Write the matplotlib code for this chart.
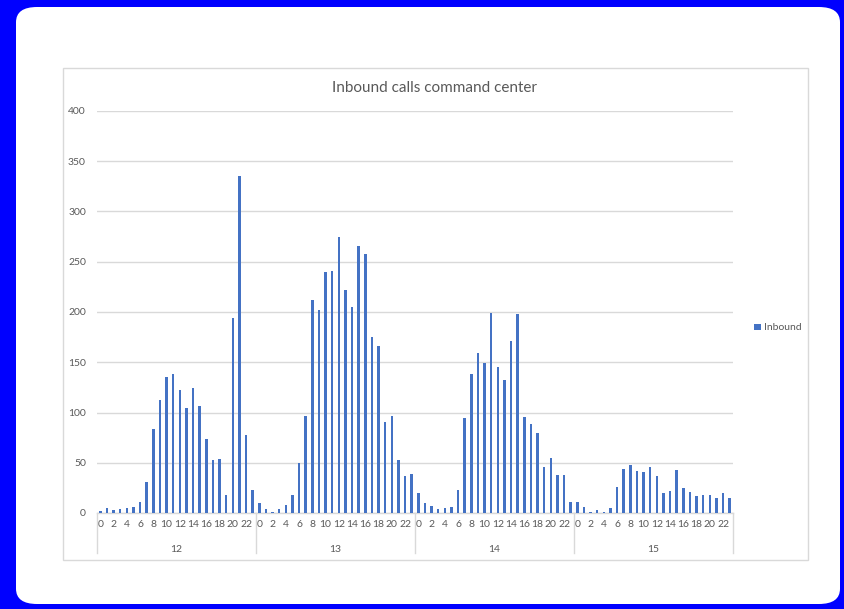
import matplotlib
matplotlib.use("Agg")
import matplotlib.pyplot as plt
from matplotlib.patches import FancyBboxPatch, Rectangle
import numpy as np

plt.rcParams['font.family'] = ['Lato', 'DejaVu Sans']

days = ["12", "13", "14", "15"]
hours = list(range(24))
inbound_12 = [2, 5, 3, 4, 5, 6, 11, 31, 84, 112, 135, 138, 122, 104, 124, 106, 74, 53, 54, 18, 194, 335, 78, 23]
inbound_13 = [10, 4, 1, 4, 8, 18, 50, 97, 212, 202, 240, 241, 275, 222, 205, 266, 258, 175, 166, 91, 97, 53, 37, 39]
inbound_14 = [20, 10, 7, 4, 5, 6, 23, 95, 138, 159, 149, 199, 145, 132, 171, 198, 96, 89, 80, 46, 55, 38, 38, 11]
inbound_15 = [11, 6, 1, 3, 1, 5, 26, 44, 48, 42, 41, 46, 37, 20, 22, 43, 25, 21, 17, 18, 18, 15, 20, 15]
y_ticks = [0, 50, 100, 150, 200, 250, 300, 350, 400]

values = inbound_12 + inbound_13 + inbound_14 + inbound_15
n = len(values)
x = np.arange(n)

W, H = 845, 609
fig = plt.figure(figsize=(W / 100, H / 100), dpi=100)
fig.patch.set_facecolor('#0000FF')

def fx(px):
    return px / W

def fy(py):
    return 1 - py / H

# white rounded card
card = FancyBboxPatch((fx(16), fy(604)), fx(840 - 16), (604 - 7) / H,
                      boxstyle="round,pad=0,rounding_size=0.025",
                      transform=fig.transFigure, facecolor='white',
                      edgecolor='none', zorder=-2)
fig.patches.append(card)

# chart frame
frame = Rectangle((fx(63), fy(560)), fx(808 - 63), (560 - 68) / H,
                  transform=fig.transFigure, facecolor='white',
                  edgecolor='#d9d9d9', linewidth=1.0, zorder=-1)
fig.patches.append(frame)

ax = fig.add_axes([fx(97), fy(513), fx(733 - 97), (513 - 111) / H])
ax.set_facecolor('none')
ax.set_zorder(1)

ax.bar(x, values, width=0.38, color='#4472C4', label='Inbound', zorder=3)

ax.set_xlim(-0.5, n - 0.5)
ax.set_ylim(0, 400)
ax.set_yticks(y_ticks)
ax.set_yticklabels([str(v) for v in y_ticks], fontsize=7.5, color='#595959')
ax.yaxis.grid(True, color='#d9d9d9', linewidth=1.0)
ax.set_axisbelow(True)

for s in ['top', 'right', 'left']:
    ax.spines[s].set_visible(False)
ax.spines['bottom'].set_color('#d9d9d9')
ax.spines['bottom'].set_linewidth(1.0)
ax.tick_params(axis='y', length=0, pad=8)

tick_pos = [d * 24 + h for d in range(len(days)) for h in hours if h % 2 == 0]
tick_lab = [str(h) for d in range(len(days)) for h in hours if h % 2 == 0]
ax.set_xticks(tick_pos)
ax.set_xticklabels(tick_lab, fontsize=7.5, color='#595959')
ax.tick_params(axis='x', length=0, pad=5)

# day grouping row
trans = ax.get_xaxis_transform()
sep_len = 40 / (513 - 111)
for d in range(len(days) + 1):
    xb = d * 24 - 0.5
    ax.plot([xb, xb], [0, -sep_len], transform=trans, color='#d9d9d9',
            linewidth=1.0, clip_on=False)
for d, lab in enumerate(days):
    ax.text(d * 24 + 11.5, -36 / (513 - 111), lab, transform=trans,
            ha='center', va='center', fontsize=7.5, color='#595959')

fig.text(fx(435), fy(88), 'Inbound calls command center', ha='center',
         va='center', fontsize=11, color='#595959')

leg = fig.legend(loc='center left', bbox_to_anchor=(fx(745), fy(328)),
                 frameon=False, fontsize=7.5, handlelength=0.6,
                 handleheight=0.6, handletextpad=0.3,
                 labelcolor='#595959')

fig.savefig('out.png', dpi=100, facecolor=fig.get_facecolor())
